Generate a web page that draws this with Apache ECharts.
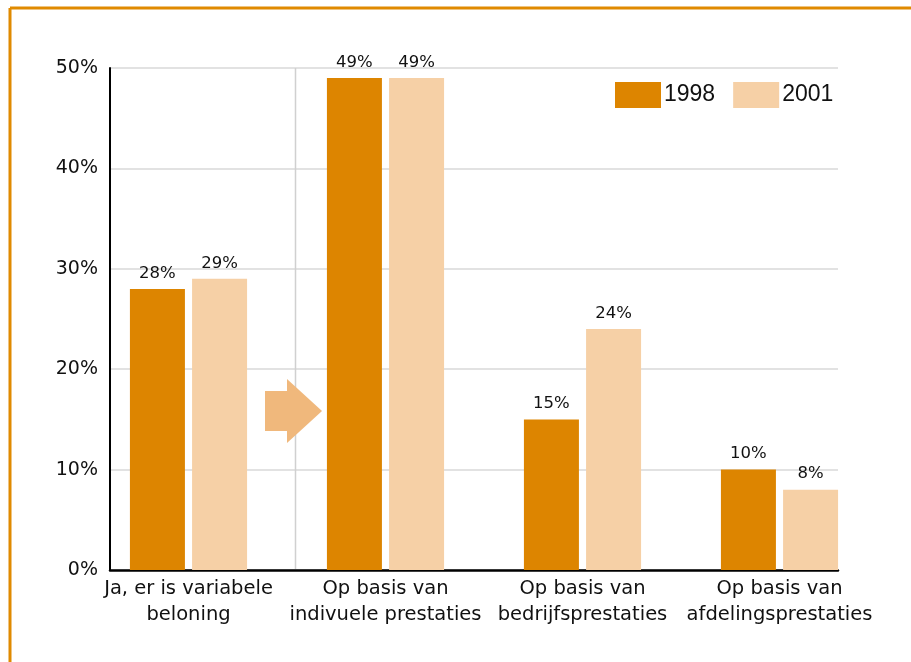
<!DOCTYPE html>
<html>
<head>
<meta charset="utf-8">
<script src="https://cdn.jsdelivr.net/npm/echarts@6/dist/echarts.min.js"></script>
<style>
html,body{margin:0;padding:0;background:#fff;}
#chart{width:911px;height:662px;}
</style>
</head>
<body>
<div id="chart"></div>
<script>
// ---- data ----
const categories = [
  "Ja, er is variabele\nbeloning",
  "Op basis van\nindivuele prestaties",
  "Op basis van\nbedrijfsprestaties",
  "Op basis van\nafdelingsprestaties"
];
const seriesNames = ["1998", "2001"];
const values1998 = [28, 49, 15, 10];
const values2001 = [29, 49, 24, 8];
const yTicks = [0, 10, 20, 30, 40, 50];

// ---- chart ----
const chart = echarts.init(document.getElementById('chart'), null, {renderer: 'canvas'});
const dark = '#dd8500';
const light = '#f6d0a6';
const lblFont = 'DejaVu Sans';

const option = {
  backgroundColor: '#ffffff',
  animation: false,
  legend: {
    data: seriesNames,
    left: 610,
    top: 77,
    itemWidth: 46,
    itemHeight: 26,
    itemGap: 18,
    icon: 'rect',
    textStyle: {fontFamily: 'Liberation Sans', fontSize: 23, color: '#111', padding: [8, 0, 0, -2]}
  },
  grid: [
    {left: 110, right: 73, top: 68, bottom: 92, containLabel: false},
    {left: 90, right: 33, top: 68, bottom: 92, containLabel: false}
  ],
  xAxis: [
    {
      gridIndex: 0, type: 'category', data: categories,
      axisLine: {show: true, lineStyle: {color: '#000', width: 2.5}},
      axisTick: {show: false}, axisLabel: {show: false}, splitLine: {show: false}
    },
    {
      gridIndex: 1, type: 'category', data: categories,
      axisLine: {show: false}, axisTick: {show: false},
      axisLabel: {
        show: true, interval: 0, color: '#111', fontFamily: lblFont, fontSize: 19.5,
        lineHeight: 26, margin: 6
      }
    }
  ],
  yAxis: [
    {
      gridIndex: 0, type: 'value', min: yTicks[0], max: yTicks[yTicks.length - 1], interval: 10,
      axisLine: {show: true, lineStyle: {color: '#000', width: 2}},
      axisTick: {show: false},
      axisLabel: {formatter: '{value}%', color: '#111', fontFamily: lblFont, fontSize: 19, margin: 12},
      splitLine: {show: true, lineStyle: {color: '#d8d8d8', width: 1.5}}
    },
    {
      gridIndex: 1, type: 'value', min: yTicks[0], max: yTicks[yTicks.length - 1], interval: 10,
      show: false, splitLine: {show: false}
    }
  ],
  series: [
    {
      name: seriesNames[0], type: 'bar', xAxisIndex: 1, yAxisIndex: 1,
      data: values1998, barWidth: 55, barGap: '13%',
      itemStyle: {color: dark},
      label: {show: true, position: 'top', distance: 7, formatter: '{c}%', color: '#111', fontFamily: lblFont, fontSize: 16.5}
    },
    {
      name: seriesNames[1], type: 'bar', xAxisIndex: 1, yAxisIndex: 1,
      data: values2001, barWidth: 55, barGap: '13%',
      itemStyle: {color: light},
      label: {show: true, position: 'top', distance: 7, formatter: '{c}%', color: '#111', fontFamily: lblFont, fontSize: 16.5}
    }
  ],
  graphic: [
    {type: 'line', shape: {x1: 10, y1: 8, x2: 911, y2: 8}, style: {stroke: '#e08a00', lineWidth: 3}, z: 100},
    {type: 'line', shape: {x1: 10, y1: 8, x2: 10, y2: 662}, style: {stroke: '#e08a00', lineWidth: 3}, z: 100},
    {type: 'line', shape: {x1: 295.5, y1: 68, x2: 295.5, y2: 569}, style: {stroke: '#d0d0d0', lineWidth: 1.5}, z: 1},
    {type: 'polygon', shape: {points: [[265,391],[287,391],[287,379],[322,411],[287,443],[287,431],[265,431]]},
     style: {fill: '#f0b87c'}, z: 5}
  ]
};
chart.setOption(option);
</script>
</body>
</html>
